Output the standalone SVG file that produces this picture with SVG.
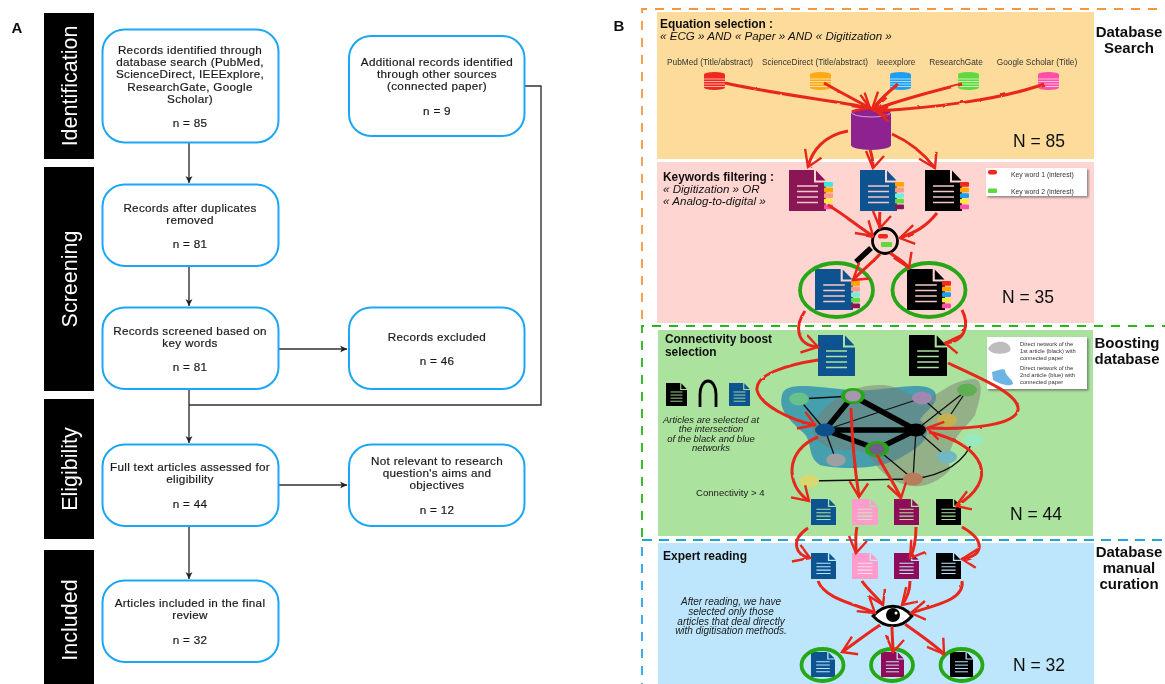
<svg xmlns="http://www.w3.org/2000/svg" width="1165" height="684" viewBox="0 0 1165 684">
<style>
text{font-family:"Liberation Sans",Arial,sans-serif;fill:#1a1a1a}
.band{fill:#000}
.bt{fill:#fff;font-size:21.5px;text-anchor:middle}
.box{fill:#fff;stroke:#1ea7f5;stroke-width:2}
.t{font-size:11.7px;letter-spacing:.3px;text-anchor:middle;font-weight:400;stroke:#1a1a1a;stroke-width:.2}
.c{fill:none;stroke:#333;stroke-width:1.4}
.h{font-size:11.9px;font-weight:700;fill:#111}
.q{font-size:11.6px;font-style:italic;font-weight:400}
.db{font-size:8.3px;text-anchor:middle;fill:#333}
.N{font-size:17.5px;fill:#111}
.sec{font-size:15px;font-weight:700;text-anchor:middle;fill:#111}
.i{font-size:10px;font-style:italic;text-anchor:middle}
.i2{font-size:9.5px;font-style:italic;text-anchor:middle}
.lg{font-size:5.8px;fill:#333}
.lk{font-size:6.8px;fill:#333}
.r{fill:none;stroke:#e8271b;stroke-width:3;marker-end:url(#ah)}
.ring{fill:none;stroke:#27a814;stroke-width:3.8}
.e{stroke:#111;stroke-width:1.3;fill:none}
.E{stroke:#000;stroke-width:5.5;fill:none}
.lb{fill:#fff;filter:url(#sh)}
</style>
<defs>
<filter id="soft" x="-2%" y="-2%" width="104%" height="104%"><feGaussianBlur stdDeviation="0.45"/></filter>
<filter id="rough" x="-5%" y="-5%" width="110%" height="110%"><feTurbulence type="fractalNoise" baseFrequency="0.12" numOctaves="2" seed="4"/><feDisplacementMap in="SourceGraphic" scale="2"/></filter>
<filter id="sh" x="-10%" y="-10%" width="120%" height="130%"><feDropShadow dx="1.5" dy="1.5" stdDeviation="1" flood-color="#555" flood-opacity=".7"/></filter>
<marker id="ah" markerUnits="userSpaceOnUse" markerWidth="30" markerHeight="30" refX="22" refY="14" orient="auto" viewBox="0 0 30 30"><path d="M10,3 L22,14 L5,21" fill="none" stroke="#e8271b" stroke-width="2.4"/></marker>
<marker id="ta" markerUnits="userSpaceOnUse" markerWidth="8" markerHeight="8" refX="7" refY="4" orient="auto"><path d="M0,0.5 L7,4 L0,7.5 L2,4Z" fill="#222"/></marker>
<symbol id="doc" viewBox="0 0 37 41" preserveAspectRatio="none"><path d="M0,0H25V12.500H37V41H0Z" fill="currentColor" stroke="none"/><path d="M27,0.500L36.500,10.500H27Z" fill="currentColor" stroke="none"/><path d="M8,16H29M8,21.500H29M8,27H29M8,32.500H29" fill="none" stroke-width="1.6"/></symbol>
<symbol id="cyl" viewBox="0 0 21 18" preserveAspectRatio="none"><rect y="2.500" width="21" height="13" fill="currentColor" stroke="none"/><ellipse cx="10.500" cy="15.500" rx="10.500" ry="2.500" fill="currentColor" stroke="none"/><ellipse cx="10.500" cy="2.500" rx="10.500" ry="2.500" fill="currentColor" stroke="none"/><path d="M0,7H21M0,9.500H21M0,12H21M0,14.500H21" stroke="#fff" stroke-opacity=".7" stroke-width=".9"/></symbol>
<symbol id="tM" viewBox="0 0 9 28"><rect width="9" height="4.800" rx="1" fill="#3fe6d8"/><rect y="5.600" width="9" height="4.800" rx="1" fill="#ffa500"/><rect y="11.200" width="9" height="4.800" rx="1" fill="#ff9a8a"/><rect y="16.800" width="9" height="4.800" rx="1" fill="#ffe93b"/><rect y="22.400" width="9" height="4.800" rx="1" fill="#ff4fa8"/></symbol>
<symbol id="tB" viewBox="0 0 9 28"><rect width="9" height="4.800" rx="1" fill="#ffa500"/><rect y="5.600" width="9" height="4.800" rx="1" fill="#ff9a8a"/><rect y="11.200" width="9" height="4.800" rx="1" fill="#6ff0dc"/><rect y="16.800" width="9" height="4.800" rx="1" fill="#62d83c"/><rect y="22.400" width="9" height="4.800" rx="1" fill="#8b1654"/></symbol>
<symbol id="tK" viewBox="0 0 9 28"><rect width="9" height="4.800" rx="1" fill="#ee2a1b"/><rect y="5.600" width="9" height="4.800" rx="1" fill="#ffa500"/><rect y="11.200" width="9" height="4.800" rx="1" fill="#1e9ff2"/><rect y="16.800" width="9" height="4.800" rx="1" fill="#ffe93b"/><rect y="22.400" width="9" height="4.800" rx="1" fill="#ff4fa8"/></symbol>
</defs>
<rect width="1165" height="684" fill="#fff"/>
<g filter="url(#soft)">
<g id="panel-a">
<text x="17" y="33" style="font-size:15px;font-weight:700;text-anchor:middle;fill:#111">A</text>
<g id="stage-identification"><rect class="band" x="44" y="13" width="50" height="146"/><text class="bt" transform="translate(77,86) rotate(-90)">Identification</text></g>
<g id="stage-screening"><rect class="band" x="44" y="167" width="50" height="224"/><text class="bt" transform="translate(77,279) rotate(-90)">Screening</text></g>
<g id="stage-eligibility"><rect class="band" x="44" y="399" width="50" height="140"/><text class="bt" transform="translate(77,469) rotate(-90)">Eligibility</text></g>
<g id="stage-included"><rect class="band" x="44" y="550" width="50" height="134"/><text class="bt" transform="translate(77,620) rotate(-90)">Included</text></g>
<g id="flow-connectors">
<path class="c" d="M189,143V183" marker-end="url(#ta)"/>
<path class="c" d="M189,266V306" marker-end="url(#ta)"/>
<path class="c" d="M189,389V443" marker-end="url(#ta)"/>
<path class="c" d="M189,526V579" marker-end="url(#ta)"/>
<path class="c" d="M278,349H347" marker-end="url(#ta)"/>
<path class="c" d="M278,485H347" marker-end="url(#ta)"/>
<path class="c" d="M525,86H541V405H189"/>
</g>
<g id="box-identified"><rect class="box" x="102.500" y="29.500" width="176" height="113" rx="22"/><text class="t"><tspan x="190" y="54">Records identified through</tspan><tspan x="190" y="66.200">database search (PubMed,</tspan><tspan x="190" y="78.400">ScienceDirect, IEEExplore,</tspan><tspan x="190" y="90.600">ResearchGate, Google</tspan><tspan x="190" y="102.800">Scholar)</tspan><tspan x="190" y="127">n = 85</tspan></text></g>
<g id="box-additional"><rect class="box" x="349" y="36" width="175.500" height="100" rx="22"/><text class="t"><tspan x="437" y="66">Additional records identified</tspan><tspan x="437" y="78.200">through other sources</tspan><tspan x="437" y="90.400">(connected paper)</tspan><tspan x="437" y="115">n = 9</tspan></text></g>
<g id="box-duplicates"><rect class="box" x="102.500" y="184.500" width="176" height="81.500" rx="22"/><text class="t"><tspan x="190" y="211.500">Records after duplicates</tspan><tspan x="190" y="223.700">removed</tspan><tspan x="190" y="248">n = 81</tspan></text></g>
<g id="box-screened"><rect class="box" x="102.500" y="307.500" width="176" height="81.500" rx="22"/><text class="t"><tspan x="190" y="334.500">Records screened based on</tspan><tspan x="190" y="347">key words</tspan><tspan x="190" y="371">n = 81</tspan></text></g>
<g id="box-excluded"><rect class="box" x="349" y="307.500" width="175.500" height="81.500" rx="22"/><text class="t"><tspan x="437" y="340.500">Records excluded</tspan><tspan x="437" y="365">n = 46</tspan></text></g>
<g id="box-fulltext"><rect class="box" x="102.500" y="444.500" width="176" height="81.500" rx="22"/><text class="t"><tspan x="190" y="471">Full text articles assessed for</tspan><tspan x="190" y="483.200">eligibility</tspan><tspan x="190" y="507.500">n = 44</tspan></text></g>
<g id="box-notrelevant"><rect class="box" x="349" y="444.500" width="175.500" height="81.500" rx="22"/><text class="t"><tspan x="437" y="465">Not relevant to research</tspan><tspan x="437" y="477.200">question's aims and</tspan><tspan x="437" y="489.400">objectives</tspan><tspan x="437" y="514">n = 12</tspan></text></g>
<g id="box-included"><rect class="box" x="102.500" y="580.500" width="176" height="81.500" rx="22"/><text class="t"><tspan x="190" y="607">Articles included in the final</tspan><tspan x="190" y="619.200">review</tspan><tspan x="190" y="643.500">n = 32</tspan></text></g>
</g>
<g id="panel-b">
<text x="619" y="31" style="font-size:15px;font-weight:700;text-anchor:middle;fill:#111">B</text>
<g id="backgrounds">
<rect x="657" y="12" width="437" height="147" fill="#fddc9b"/>
<rect x="657" y="162" width="437" height="161" fill="#ffd5d2"/>
<rect x="658" y="330" width="435" height="206" fill="#aae29e"/>
<rect x="658" y="543" width="436" height="141" fill="#bde6fd"/>
</g>
<g id="dashes" fill="none" stroke-width="1.800" stroke-dasharray="9 8">
<path stroke="#f3983f" d="M642,319V9H1165"/>
<path stroke="#25b816" d="M642,537V326H1165"/>
<path stroke="#25b816" d="M642,540H1165"/>
<path stroke="#22a4ea" stroke-dashoffset="8" d="M642,684V540H1165"/>
</g>
<g id="database-search">
<text class="h"><tspan x="660" y="27.500">Equation selection :</tspan><tspan class="q" x="660" y="39.500">« ECG » AND « Paper » AND « Digitization »</tspan></text>
<text class="db" x="710" y="65">PubMed (Title/abstract)</text>
<text class="db" x="815" y="65">ScienceDirect (Title/abstract)</text>
<text class="db" x="896" y="65">Ieeexplore</text>
<text class="db" x="956" y="65">ResearchGate</text>
<text class="db" x="1037" y="65">Google Scholar (Title)</text>
<use href="#cyl" x="704" y="72" width="21" height="18" style="color:#ee2a1b"/>
<use href="#cyl" x="810" y="72" width="21" height="18" style="color:#ffa913"/>
<use href="#cyl" x="890" y="72" width="21" height="18" style="color:#1e9ff2"/>
<use href="#cyl" x="958" y="72" width="21" height="18" style="color:#5fd93c"/>
<use href="#cyl" x="1038" y="72" width="21" height="18" style="color:#ff4fa8"/>
<g id="main-db"><path d="M851,112V145A20,5 0 0 0 891,145V112Z" fill="#8e2090"/><ellipse cx="871" cy="112" rx="20" ry="5" fill="#8e2090" stroke="#e8c0e8" stroke-width=".8"/></g>
<text class="N" x="1013" y="147">N = 85</text>
<text class="sec"><tspan x="1129" y="37">Database</tspan><tspan x="1129" y="53">Search</tspan></text>
</g>
<g id="keywords">
<text class="h"><tspan x="663" y="181">Keywords filtering :</tspan><tspan class="q" x="663" y="193">« Digitization » OR</tspan><tspan class="q" x="663" y="205">« Analog-to-digital »</tspan></text>
<use href="#doc" x="789" y="170" width="37" height="41" style="color:#8b1654" stroke="#f4c8c8"/><use href="#tM" x="824" y="182" width="9" height="28"/>
<use href="#doc" x="860" y="170" width="37" height="41" style="color:#0d5290" stroke="#f4c8c8"/><use href="#tB" x="895" y="182" width="9" height="28"/>
<use href="#doc" x="925" y="170" width="37" height="41" style="color:#000" stroke="#f4c8c8"/><use href="#tK" x="960" y="182" width="9" height="28"/>
<g id="legend-keywords"><rect class="lb" x="986" y="168" width="101" height="28"/><rect x="988" y="170" width="9" height="4.500" rx="2" fill="#ee2a1b"/><rect x="988" y="188.500" width="9" height="4.500" rx="1" fill="#5fd93c"/><text class="lk" x="1011" y="176.500">Key word 1 (interest)</text><text class="lk" x="1011" y="193.500">Key word 2 (interest)</text></g>
<g id="magnifier"><path d="M871,248L856,262" stroke="#000" stroke-width="5.500" fill="none"/><circle cx="885" cy="241" r="12.500" fill="#ffd5d2" stroke="#000" stroke-width="2.800"/><rect x="878" y="234" width="10" height="4.500" rx="2" fill="#ee2a1b"/><rect x="881" y="242" width="11" height="5" rx="1" fill="#5fd93c"/></g>
<use href="#doc" x="815" y="269" width="38" height="41" style="color:#0d5290" stroke="#f4c8c8"/><use href="#tB" x="851" y="281" width="9" height="28"/>
<use href="#doc" x="907" y="269" width="38" height="41" style="color:#000" stroke="#f4c8c8"/><use href="#tK" x="942" y="281" width="9" height="28"/>
<ellipse class="ring" cx="836.500" cy="290" rx="36.500" ry="27"/>
<ellipse class="ring" cx="929" cy="290" rx="36.500" ry="27"/>
<text class="N" x="1002" y="303">N = 35</text>
</g>
<g id="boosting">
<text class="h"><tspan x="665" y="343">Connectivity boost</tspan><tspan x="665" y="355.500">selection</tspan></text>
<use href="#doc" x="818" y="335" width="37" height="41" style="color:#0d5290" stroke="#aae29e"/>
<use href="#doc" x="909" y="335" width="38" height="41" style="color:#000" stroke="#aae29e"/>
<g id="legend-network"><rect class="lb" x="987" y="337" width="100" height="52"/><path d="M988,349C990,343 998,341 1003,342C1008,343 1012,347 1010,351C1005,355 992,355 988,349Z" fill="#bdbdbd"/><path d="M992,372C998,370 1003,368 1005,370C1004,374 1014,381 1013,384C1008,387 1000,384 993,380Z" fill="#6cb4e4"/>
<text class="lg" x="1020" y="346">Direct network of the</text><text class="lg" x="1020" y="353">1st article (black) with</text><text class="lg" x="1020" y="360">connected paper</text>
<text class="lg" x="1020" y="370">Direct network of the</text><text class="lg" x="1020" y="377">2nd article (blue) with</text><text class="lg" x="1020" y="384">connected paper</text></g>
<use href="#doc" x="666" y="383" width="21" height="23" style="color:#000" stroke="#aae29e"/>
<path d="M700,407V394A8,13 0 0 1 716,394V407" fill="none" stroke="#000" stroke-width="2.800"/>
<use href="#doc" x="729" y="383" width="21" height="23" style="color:#0d5290" stroke="#aae29e"/>
<text class="i2" x="711" y="422.500">Articles are selected at</text><text class="i2" x="711" y="431.500">the intersection</text><text class="i2" x="711" y="441.500">of the black and blue</text><text class="i2" x="711" y="451">networks</text>
<text style="font-size:9.6px" x="696" y="496">Connectivity &gt; 4</text>
<g id="network">
<path d="M782,395C785,380 820,388 850,390C880,393 925,378 935,392C940,405 925,410 920,420C935,430 925,445 905,455C885,470 840,470 820,465C805,455 815,440 800,430C790,420 778,410 782,395Z" fill="#2a8fb0" opacity=".8"/>
<path d="M815,420C830,400 850,385 880,385C900,385 905,395 925,400C940,395 950,380 975,379C985,382 980,400 975,415C965,430 945,440 950,470C930,490 910,490 890,478C870,465 875,450 850,450C830,452 805,440 815,420Z" fill="#7d7d72" opacity=".5"/>
<g class="e"><path d="M799,399L853,396M799,399L825,430M825,430L922,398M916,430L967,390M922,398L947,420M947,420L967,390M825,430L836,460M916,430L913,479M916,430L947,457M877,449L913,479M809,481L913,479M913,479C945,475 965,462 973,440"/></g>
<g class="E"><path d="M825,430L853,396M853,396L916,430M825,430L916,430M825,430L877,449M877,449L916,430"/></g>
<ellipse cx="799" cy="399" rx="10" ry="6.500" fill="#68c08a"/>
<ellipse cx="853" cy="396" rx="12" ry="8" fill="#27a814"/><ellipse cx="853" cy="396" rx="8" ry="5.500" fill="#a796b0"/>
<ellipse cx="922" cy="398" rx="10" ry="6.500" fill="#a088b0"/>
<ellipse cx="967" cy="390" rx="10" ry="6.500" fill="#60b052"/>
<ellipse cx="947" cy="420" rx="10" ry="6.500" fill="#c9b050"/>
<ellipse cx="825" cy="430" rx="10" ry="6.500" fill="#0d4f8b"/>
<ellipse cx="916" cy="430" rx="10" ry="6.500" fill="#000"/>
<ellipse cx="877" cy="449" rx="12" ry="8" fill="#27a814"/><ellipse cx="877" cy="449" rx="8" ry="5.500" fill="#6e6080"/>
<ellipse cx="836" cy="460" rx="10" ry="6.500" fill="#9ca0a0"/>
<ellipse cx="947" cy="457" rx="10" ry="6.500" fill="#72b8c0"/>
<ellipse cx="973" cy="440" rx="10" ry="6.500" fill="#98e8c0"/>
<ellipse cx="913" cy="479" rx="10" ry="6.500" fill="#b87c5c"/>
<ellipse cx="809" cy="481" rx="10" ry="6.500" fill="#d8d870"/>
</g>
<use href="#doc" x="811" y="499" width="25" height="26" style="color:#0d5290" stroke="#aae29e"/>
<use href="#doc" x="852" y="499" width="26" height="26" style="color:#ff9ccc" stroke="#c8e8c0"/>
<use href="#doc" x="894" y="499" width="25" height="26" style="color:#8f1058" stroke="#aae29e"/>
<use href="#doc" x="936" y="499" width="25" height="26" style="color:#000" stroke="#aae29e"/>
<text class="N" x="1010" y="520">N = 44</text>
<text class="sec"><tspan x="1127" y="348">Boosting</tspan><tspan x="1127" y="364">database</tspan></text>
</g>
<g id="curation">
<text style="font-size:12px;font-weight:700;fill:#111" x="663" y="560">Expert reading</text>
<use href="#doc" x="811" y="553" width="25" height="26" style="color:#0d5290" stroke="#bde6fd"/>
<use href="#doc" x="852" y="553" width="26" height="26" style="color:#ff9ccc" stroke="#fde"/>
<use href="#doc" x="894" y="553" width="25" height="26" style="color:#8f1058" stroke="#bde6fd"/>
<use href="#doc" x="936" y="553" width="25" height="26" style="color:#000" stroke="#bde6fd"/>
<text class="i"><tspan x="731" y="605">After reading, we have</tspan><tspan x="731" y="615">selected only those</tspan><tspan x="731" y="624.500">articles that deal directly</tspan><tspan x="731" y="634">with digitisation methods.</tspan></text>
<g id="eye"><path d="M873,616C885,603 901,603 912,616C901,629 885,629 873,616Z" fill="#fff" stroke="#000" stroke-width="2.800"/><circle cx="893" cy="615" r="7" fill="#000"/><circle cx="896" cy="613" r="1.500" fill="#fff"/></g>
<use href="#doc" x="811" y="652" width="24" height="25" style="color:#0d5290" stroke="#bde6fd"/>
<use href="#doc" x="881" y="652" width="23" height="25" style="color:#8f1058" stroke="#bde6fd"/>
<use href="#doc" x="950" y="652" width="23" height="25" style="color:#000" stroke="#bde6fd"/>
<ellipse class="ring" cx="822.500" cy="665" rx="21" ry="16"/><ellipse class="ring" cx="892" cy="665" rx="21" ry="16"/><ellipse class="ring" cx="961.500" cy="665" rx="21" ry="16"/>
<text class="N" x="1013" y="671">N = 32</text>
<text class="sec"><tspan x="1129" y="557">Database</tspan><tspan x="1129" y="573">manual</tspan><tspan x="1129" y="589">curation</tspan></text>
</g>
<g id="connectors" filter="url(#rough)">
<path class="r" d="M725,83C780,95 830,100 870,108"/>
<path class="r" d="M824,83C840,92 855,100 870,108"/>
<path class="r" d="M898,84C888,92 880,100 872,109"/>
<path class="r" d="M962,84C930,92 900,100 873,110"/>
<path class="r" d="M1044,84C1000,100 930,108 876,111"/>
<path class="r" d="M848,131C825,135 812,150 808,167"/>
<path class="r" d="M870,150C872,155 873,160 873,168"/>
<path class="r" d="M892,134C910,142 925,155 935,168"/>
<path class="r" d="M828,205C845,215 860,228 873,236"/>
<path class="r" d="M880,212C879,218 880,225 880,228"/>
<path class="r" d="M937,213C925,228 915,232 900,238"/>
<path class="r" d="M880,254C870,265 862,270 853,280"/>
<path class="r" d="M890,253C897,258 905,262 909,268"/>
<path class="r" d="M805,311C795,325 795,345 818,347"/>
<path class="r" d="M962,310C970,325 965,342 945,343"/>
<path class="r" d="M818,360C785,365 755,375 757,390C760,405 790,420 815,425"/>
<path class="r" d="M948,363C985,380 1020,395 1018,410C1015,425 970,430 927,428"/>
<path class="r" d="M851,408C852,440 855,470 859,497"/>
<path class="r" d="M877,455C885,470 895,485 901,498"/>
<path class="r" d="M818,437C785,450 785,485 809,501"/>
<path class="r" d="M929,432C985,445 1000,480 956,506"/>
<path class="r" d="M808,528C790,540 795,555 810,558"/>
<path class="r" d="M857,527C855,535 856,545 856,553"/>
<path class="r" d="M916,527C916,540 914,550 910,558"/>
<path class="r" d="M962,527C985,540 985,555 962,559"/>
<path class="r" d="M818,581C825,600 860,605 875,613"/>
<path class="r" d="M862,581C868,590 878,598 883,605"/>
<path class="r" d="M910,581C910,590 907,598 902,605"/>
<path class="r" d="M962,581C965,600 935,605 911,613"/>
<path class="r" d="M880,625C865,635 855,643 842,652"/>
<path class="r" d="M892,626C892,635 893,645 893,652"/>
<path class="r" d="M905,624C920,635 935,645 944,654"/>
</g>
</g>
</g>
</svg>
